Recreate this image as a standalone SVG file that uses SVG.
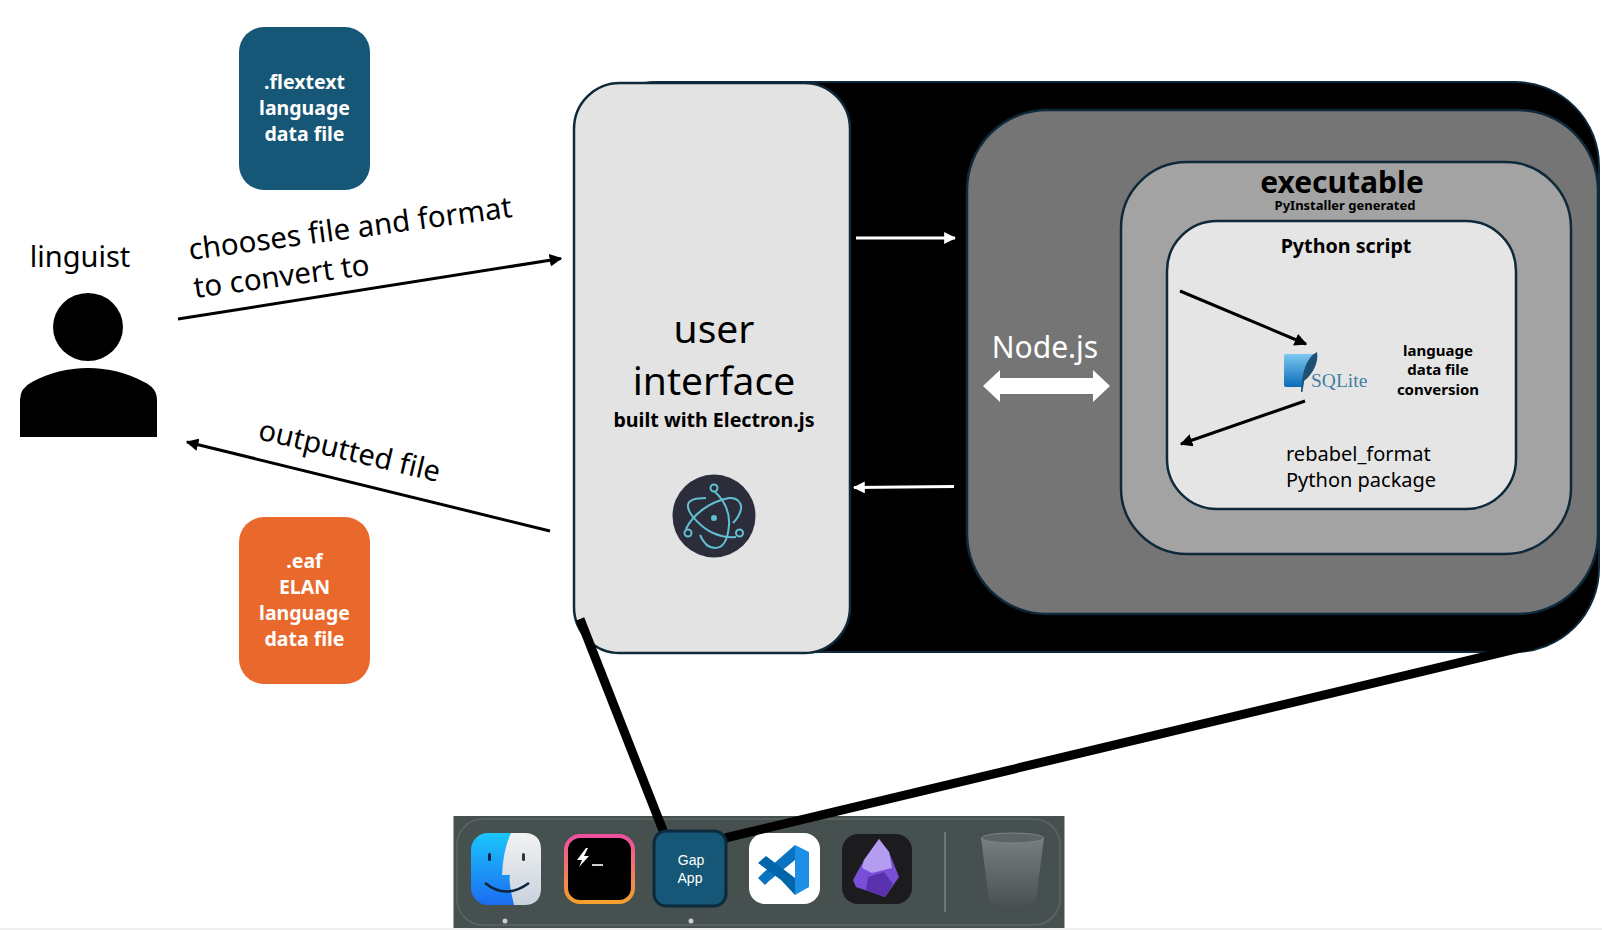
<svg xmlns="http://www.w3.org/2000/svg" width="1602" height="930" viewBox="0 0 1602 930">
<style>
text{font-family:"Noto Sans","Open Sans",sans-serif;fill:#000;text-anchor:middle}
.b{font-weight:700}
.w{fill:#fff}
.box{stroke:#0e2a3a;stroke-width:2.5}
.conn{fill:none;stroke:#000;stroke-width:3}
.wl{fill:none;stroke:#fff;stroke-width:3}
.thick{stroke:#000;stroke-width:9;fill:none}
.el{fill:none;stroke:#62bfd2;stroke-width:2}
</style>
<defs>
<marker id="ah" viewBox="0 0 10 10" refX="9" refY="5" markerWidth="4.2" markerHeight="4.2" orient="auto"><path d="M0 0L10 5L0 10z" fill="#000"/></marker>
<marker id="aw" viewBox="0 0 10 10" refX="9" refY="5" markerWidth="4" markerHeight="4" orient="auto"><path d="M0 0L10 5L0 10z" fill="#fff"/></marker>
<linearGradient id="tg" x1="0" y1="0" x2="0" y2="1"><stop offset="0" stop-color="#ee4fa0"/><stop offset="1" stop-color="#f5a02c"/></linearGradient>
<linearGradient id="fl" x1="0" y1="0" x2="0" y2="1"><stop offset="0" stop-color="#1ac6fb"/><stop offset="1" stop-color="#1c6cf0"/></linearGradient>
<linearGradient id="fr" x1="0" y1="0" x2="0" y2="1"><stop offset="0" stop-color="#f2f2f2"/><stop offset="1" stop-color="#c9d2de"/></linearGradient>
<linearGradient id="sq" x1="0" y1="0" x2="0" y2="1"><stop offset="0" stop-color="#7cc8f0"/><stop offset="1" stop-color="#0a6cb8"/></linearGradient>
<linearGradient id="tr" x1="0" y1="0" x2="0" y2="1"><stop offset="0" stop-color="#7a8282"/><stop offset="1" stop-color="#4a5151"/></linearGradient>
</defs>
<rect width="1602" height="930" fill="#fff"/>
<rect y="928" width="1602" height="2" fill="#efefef"/>

<g id="app-frame">
<rect x="574" y="82" width="1025" height="570" rx="84" fill="#000" stroke="#0e2a3a" stroke-width="2"/>
</g>
<g id="node-runtime">
<rect class="box" x="967" y="110" width="631" height="504" rx="80" fill="#757575"/>
<text class="w" x="1045" y="358" font-size="30">Node.js</text>
<path d="M983 386L1000 370V378H1093V370L1110 386L1093 402V394H1000V402z" fill="#fff"/>
</g>
<g id="node-executable">
<rect class="box" x="1121" y="162" width="450" height="392" rx="66" fill="#a3a3a3"/>
<text class="b" x="1342" y="193" font-size="30">executable</text>
<text class="b" x="1345" y="210" font-size="13">PyInstaller generated</text>
</g>
<g id="node-python">
<rect class="box" x="1167" y="221" width="349" height="288" rx="50" fill="#e5e5e5"/>
<text class="b" x="1346" y="253" font-size="19.700">Python script</text>
<text class="b" x="1438" y="356" font-size="15">language</text>
<text class="b" x="1438" y="375" font-size="15">data file</text>
<text class="b" x="1438" y="395" font-size="15">conversion</text>
<text x="1286" y="461" font-size="20" style="text-anchor:start">rebabel_format</text>
<text x="1286" y="487" font-size="20" style="text-anchor:start">Python package</text>
<path d="M1284 356Q1284 354 1286 354H1316Q1305 364 1303 387H1286Q1284 387 1284 385z" fill="url(#sq)"/>
<path d="M1301 392C1302 372 1306 358 1317 352C1319 362 1313 374 1304 381L1302.500 392z" fill="#1f4f73"/>
<text x="1311" y="387" font-size="19.500" style="text-anchor:start;font-family:'Liberation Serif',serif;fill:#3f7fa3">SQLite</text>
</g>
<g id="node-ui">
<rect class="box" x="574" y="83" width="276" height="570" rx="46" fill="#e3e3e3"/>
<text x="714" y="343" font-size="39">user</text>
<text x="714" y="395" font-size="39">interface</text>
<text class="b" x="714" y="427" font-size="19.600">built with Electron.js</text>
<circle cx="714" cy="516" r="41.500" fill="#2b2e3a"/>
<g class="el">
<path d="M715 492C724 500 730 512 729 525C728 538 724 548 715 548C708 548 703 542 700 535"/>
<path d="M686 529C692 516 708 502 729 498C737 497 742 503 741 509C740 514 737 519 733 523"/>
<path d="M706 498C695 498 687 500 688 507C689 515 702 528 713 533C720 536 728 538 736 537"/>
<circle cx="714" cy="488" r="3.500"/>
<circle cx="688" cy="533" r="3.500"/>
<circle cx="739.500" cy="533" r="3.500"/>
</g>
<circle cx="714" cy="518" r="3" fill="#62bfd2"/>
</g>
<g id="node-flextext">
<rect x="239" y="27" width="131" height="163" rx="25" fill="#165676"/>
<text class="b w" x="304.500" y="89" font-size="19.500">.flextext</text>
<text class="b w" x="304.500" y="115" font-size="19.500">language</text>
<text class="b w" x="304.500" y="141" font-size="19.500">data file</text>
</g>
<g id="node-eaf">
<rect x="239" y="517" width="131" height="167" rx="25" fill="#e9682c"/>
<text class="b w" x="304.500" y="568" font-size="19.500">.eaf</text>
<text class="b w" x="304.500" y="594" font-size="19.500">ELAN</text>
<text class="b w" x="304.500" y="620" font-size="19.500">language</text>
<text class="b w" x="304.500" y="646" font-size="19.500">data file</text>
</g>
<g id="node-linguist">
<text x="80" y="267" font-size="29">linguist</text>
<ellipse cx="88" cy="327" rx="35" ry="34"/>
<path d="M20 437V400Q20 388 32 382Q58 368 88 368Q118 368 144 382Q157 388 157 400V437z"/>
</g>
<g id="dock">
<rect x="453.500" y="816" width="611" height="112" fill="#46504f"/>
<rect x="457" y="819" width="603" height="106" rx="26" fill="none" stroke="#5c6665" stroke-width="1.500"/>
<g id="finder">
<rect x="471" y="833" width="70" height="72" rx="17" fill="url(#fl)"/>
<path d="M511 833H524Q541 833 541 850V888Q541 905 524 905H514Q508 880 510 875H502Q503 850 511 833z" fill="url(#fr)"/>
<rect x="488" y="853" width="3" height="8" rx="1.500" fill="#10243c"/>
<rect x="522" y="853" width="3" height="8" rx="1.500" fill="#333"/>
<path d="M485 883Q506 900 529 883" fill="none" stroke="#10243c" stroke-width="2.500"/>
</g>
<g id="terminal">
<rect x="566" y="836" width="67" height="66" rx="14" fill="#000" stroke="url(#tg)" stroke-width="4"/>
<path d="M586 848L577 860H582L579 867L589 856H584L588 848z" fill="#fff"/>
<rect x="592" y="864" width="11" height="2" fill="#cfcfcf"/>
</g>
<g id="vscode">
<rect x="749" y="833" width="71" height="71" rx="16" fill="#fff"/>
<path d="M795 845L809 852V887L795 895z" fill="#1c8fe6"/>
<path d="M795 845V860L769 881L765 885L758 878L763 873z" fill="#0a74c2"/>
<path d="M795 895V878L766 856L758 863L781 880z" fill="#0065a9"/>
</g>
<g id="obsidian">
<rect x="842" y="834" width="70" height="70" rx="16" fill="#1c1c1e"/>
<path d="M879 839L889 852L899 877L885 897L856 887L853 880L864 860z" fill="#7a4fd8"/>
<path d="M879 839L889 852L892 868L872 873L862 868L864 860z" fill="#b49cf0"/>
<path d="M868 877L884 872L893 884L885 897L866 890z" fill="#5a31ad"/>
</g>
<path d="M945 832V912" stroke="#7b8685" stroke-width="1.500"/>
<g id="trash">
<path d="M981 838Q1012 828 1044 838L1036 900Q1012 914 989 900z" fill="url(#tr)"/>
<ellipse cx="1012.500" cy="838" rx="31" ry="5" fill="#5c6464" stroke="#7c8484"/>
</g>
<circle cx="505" cy="921" r="2.500" fill="#c9cfcf"/>
<circle cx="691" cy="921" r="2.500" fill="#c9cfcf"/>
</g>
<g id="connectors">
<path class="conn" d="M178 319L561 258.500" marker-end="url(#ah)"/>
<path class="conn" d="M550 531L187 442" marker-end="url(#ah)"/>
<path class="wl" d="M856 238H955" marker-end="url(#aw)"/>
<path class="wl" d="M954 486.500L854 487.500" marker-end="url(#aw)"/>
<path class="conn" d="M1180 291L1306 344" marker-end="url(#ah)"/>
<path class="conn" d="M1305 401L1181 444" marker-end="url(#ah)"/>
<path class="thick" d="M580 619L664 833"/>
<path class="thick" d="M1533 645L725 838"/>
</g>
<g id="gap-app">
<rect x="654" y="831" width="72" height="75" rx="12" fill="#165676" stroke="#0b2b3c" stroke-width="3"/>
<text class="w" x="691" y="865" font-size="14" style="font-family:'Liberation Sans',sans-serif">Gap</text>
<text class="w" x="690" y="883" font-size="14" style="font-family:'Liberation Sans',sans-serif">App</text>
</g>
<g id="edge-labels">
<text x="190" y="260" font-size="29.500" style="text-anchor:start" transform="rotate(-7.600 190 260)">chooses file and format</text>
<text x="195" y="298" font-size="29.500" style="text-anchor:start" transform="rotate(-7.600 195 298)">to convert to</text>
<text x="257" y="439" font-size="29" style="text-anchor:start" transform="rotate(13.400 257 439)">outputted file</text>
</g>
</svg>
